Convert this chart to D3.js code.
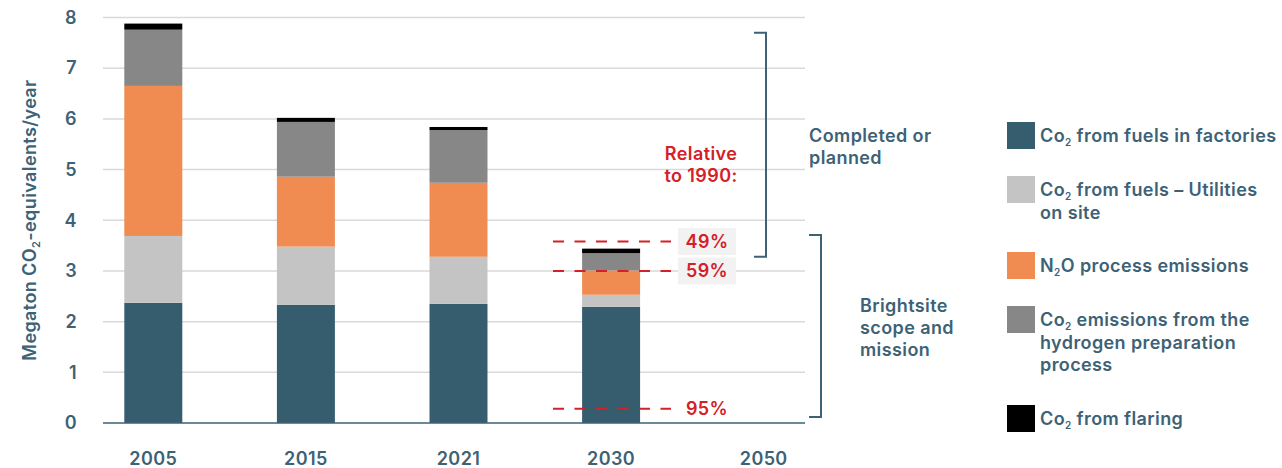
<!DOCTYPE html>
<html>
<head>
<meta charset="utf-8">
<script src="https://cdn.jsdelivr.net/npm/d3@7"></script>
<style>
  body { margin: 0; background: #fff; }
  svg text { font-family: Inter, "Noto Sans", sans-serif; letter-spacing: 0.4px; }
</style>
</head>
<body>
<div id="chart"></div>
<script>
// datos
const years = ["2005", "2015", "2021", "2030", "2050"];
const seriesKeys = ["fabricas", "utilities", "n2o", "hidrogeno", "antorcha"];
const fabricas  = [2.37, 2.33, 2.35, 2.29, 0];
const utilities = [1.32, 1.15, 0.93, 0.24, 0];
const n2o       = [2.96, 1.38, 1.46, 0.48, 0];
const hidrogeno = [1.11, 1.08, 1.04, 0.34, 0];
const antorcha  = [0.12, 0.08, 0.06, 0.09, 0];
const colores = ["#355d6e", "#c4c4c4", "#f08c52", "#878787", "#000000"];
const leyenda = [
  ["Co_2 from fuels in factories"],
  ["Co_2 from fuels \u2013 Utilities", "on site"],
  ["N_2O process emissions"],
  ["Co_2 emissions from the", "hydrogen preparation", "process"],
  ["Co_2 from flaring"]
];
const yTicks = [0, 1, 2, 3, 4, 5, 6, 7, 8];
// objetivos relativos a 1990
const objetivos = [3.58, 3.0, 0.28];
const objetivoLabels = ["49%", "59%", "95%"];
const objetivoCaja = [true, true, false];
// corchetes [desde, hasta]
const corcheteArriba = [7.70, 3.28];
const corcheteAbajo = [3.71, 0.12];

const azul = "#3d6275";
const rojo = "#d42027";
const fs = "18px";

const tabla = years.map((y, i) => ({
  year: y, fabricas: fabricas[i], utilities: utilities[i], n2o: n2o[i],
  hidrogeno: hidrogeno[i], antorcha: antorcha[i]
}));

const svg = d3.select("#chart").append("svg")
  .attr("width", 1282)
  .attr("height", 468);

// Escalas
const x = d3.scaleBand().domain(years).range([77, 840]).paddingInner(0.62).paddingOuter(0.31);
const y = d3.scaleLinear().domain([0, 8]).range([423, 17.5]);

// rejilla
svg.append("g").selectAll("line")
  .data(yTicks.filter(d => d > 0))
  .enter().append("line")
  .attr("x1", 103).attr("x2", 805)
  .attr("y1", d => y(d)).attr("y2", d => y(d))
  .attr("stroke", "#d9d9d9").attr("stroke-width", 1.5);

// eje y
const ejeY = svg.append("g")
  .attr("transform", "translate(77,0)")
  .call(d3.axisLeft(y).tickValues(yTicks).tickSize(0).tickPadding(0));
ejeY.select(".domain").remove();
ejeY.selectAll("text")
  .attr("fill", azul).style("font-size", fs).style("font-weight", 600);

// barras apiladas
const pila = d3.stack().keys(seriesKeys)(tabla);
svg.append("g").selectAll("g")
  .data(pila)
  .enter().append("g")
  .attr("fill", (d, i) => colores[i])
  .selectAll("rect")
  .data(d => d)
  .enter().append("rect")
  .attr("x", d => x(d.data.year))
  .attr("width", x.bandwidth())
  .attr("y", d => y(d[1]))
  .attr("height", d => y(d[0]) - y(d[1]));

// linea base
svg.append("line")
  .attr("x1", 103).attr("x2", 805)
  .attr("y1", y(0)).attr("y2", y(0))
  .attr("stroke", azul).attr("stroke-width", 1.5);

// eje x
const ejeX = svg.append("g")
  .attr("transform", `translate(0,${y(0)})`)
  .call(d3.axisBottom(x).tickSize(0).tickPadding(29));
ejeX.select(".domain").remove();
ejeX.selectAll("text")
  .attr("fill", azul).style("font-size", fs).style("font-weight", 600);

// titulo eje y
svg.append("text")
  .attr("transform", "translate(36,220) rotate(-90)")
  .attr("text-anchor", "middle")
  .attr("fill", azul)
  .style("font-size", fs).style("font-weight", 600)
  .call(t => {
    t.append("tspan").text("Megaton CO");
    t.append("tspan").text("2").style("font-size", "11px").attr("dy", 4);
    t.append("tspan").text("-equivalents/year").attr("dy", -4);
  });

// lineas de objetivo
const gObj = svg.append("g");
gObj.selectAll("line")
  .data(objetivos)
  .enter().append("line")
  .attr("x1", 553).attr("x2", 671)
  .attr("y1", d => y(d)).attr("y2", d => y(d))
  .attr("stroke", rojo).attr("stroke-width", 2)
  .attr("stroke-dasharray", "11,10.5");
gObj.selectAll("rect")
  .data(objetivos.filter((d, i) => objetivoCaja[i]))
  .enter().append("rect")
  .attr("x", 678).attr("width", 58)
  .attr("y", d => y(d) - 13.5).attr("height", 27)
  .attr("fill", "#f2f2f2");
gObj.selectAll("text")
  .data(objetivos)
  .enter().append("text")
  .attr("x", 707).attr("y", d => y(d) + 6.5)
  .attr("text-anchor", "middle")
  .attr("fill", rojo)
  .style("font-size", fs).style("font-weight", 600)
  .text((d, i) => objetivoLabels[i]);

svg.append("text")
  .attr("y", 160)
  .attr("text-anchor", "middle")
  .attr("fill", rojo)
  .style("font-size", fs).style("font-weight", 600)
  .call(t => {
    t.append("tspan").attr("x", 701).text("Relative");
    t.append("tspan").attr("x", 701).attr("dy", 22).text("to 1990:");
  });

// corchetes
function corchete(rango, xv, xt) {
  svg.append("path")
    .attr("d", `M${xt},${y(rango[0])}H${xv}V${y(rango[1])}H${xt}`)
    .attr("fill", "none").attr("stroke", azul).attr("stroke-width", 2);
}
corchete(corcheteArriba, 766, 754);
corchete(corcheteAbajo, 821, 809);

function bloque(lineas, x0, y0, dy) {
  const t = svg.append("text")
    .attr("fill", azul).style("font-size", fs).style("font-weight", 600);
  lineas.forEach((l, i) => {
    t.append("tspan").attr("x", x0).attr("y", y0 + i * dy).text(l);
  });
}
bloque(["Completed or", "planned"], 809, 142, 22);
bloque(["Brightsite", "scope and", "mission"], 860, 312, 22);

// leyenda
const legY = [122, 176, 252, 306, 405];
const gLeg = svg.append("g");
leyenda.forEach((lineas, i) => {
  gLeg.append("rect")
    .attr("x", 1007).attr("y", legY[i])
    .attr("width", 28).attr("height", 27)
    .attr("fill", colores[i]);
  const t = gLeg.append("text")
    .attr("fill", azul).style("font-size", fs).style("font-weight", 600);
  lineas.forEach((l, j) => {
    const by = legY[i] + 20 + j * 22.5;
    const partes = l.split("_2");
    t.append("tspan").attr("x", 1040).attr("y", by).text(partes[0]);
    if (partes.length > 1) {
      t.append("tspan").attr("y", by + 4).style("font-size", "10px").text("2");
      t.append("tspan").attr("y", by).text(partes[1]);
    }
  });
});
</script>
</body>
</html>
